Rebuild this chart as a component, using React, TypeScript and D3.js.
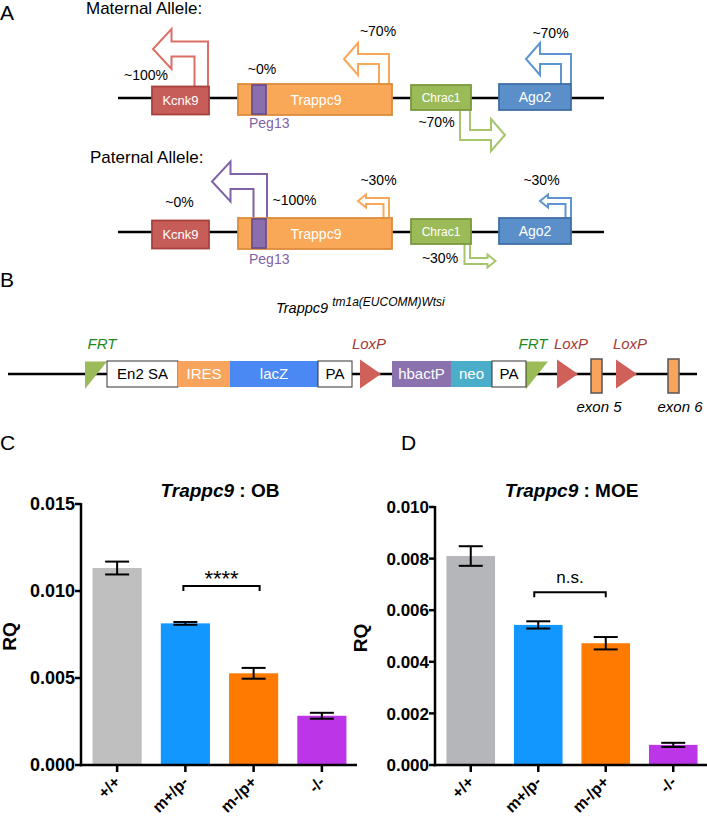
import React from "react";
import * as d3 from "d3";

const FONT = "'Liberation Sans', Arial, Helvetica, sans-serif";

// ---------- Panel A data ----------
const genes = ["Kcnk9", "Trappc9", "Peg13", "Chrac1", "Ago2"];
const maternalPct = [100, 70, 0, 70, 70];
const paternalPct = [0, 30, 100, 30, 30];
const alleleTitles = ["Maternal Allele:", "Paternal Allele:"];

// ---------- Panel B data ----------
const cassetteLabels = ["En2 SA", "IRES", "lacZ", "PA", "hbactP", "neo", "PA"];
const siteLabels = ["FRT", "LoxP", "FRT", "LoxP", "LoxP"];
const exonLabels = ["exon 5", "exon 6"];

// ---------- Panels C / D data ----------
const categories = ["+/+", "m+/p-", "m-/p+", "-/-"];
const obMeans = [0.01132, 0.00814, 0.00527, 0.00283];
const obSem = [0.00037, 0.00008, 0.00031, 0.00017];
const obTicks = [0, 0.005, 0.01, 0.015];
const moeMeans = [0.0081, 0.00543, 0.00472, 0.00078];
const moeSem = [0.00038, 0.00014, 0.00024, 0.00008];
const moeTicks = [0, 0.002, 0.004, 0.006, 0.008, 0.01];

// ---------- layout (diagram geometry) ----------
const geneLayout: Record<string, any> = {
  Kcnk9: { x0: 152, x1: 209, dy: [-11.5, 16.5], fill: "#c75d58", stroke: "#a8413d", arrow: "#dd6e66", fs: 13, dir: "left", xr: 208 },
  Trappc9: { x0: 238, x1: 392, dy: [-14, 17], fill: "#f9a858", stroke: "#dc8c3c", arrow: "#f9a75a", fs: 14, dir: "left", xr: 389 },
  Peg13: { x0: 252, x1: 266, dy: [-13, 16], fill: "#8a6ead", stroke: "#6b5090", arrow: "#8063a6", fs: 0, dir: "left", xr: 267 },
  Chrac1: { x0: 411, x1: 471, dy: [-13, 12], fill: "#9bbb59", stroke: "#7b9a3e", arrow: "#a6c56c", fs: 12, dir: "right", xr: 470 },
  Ago2: { x0: 499, x1: 571, dy: [-14, 12], fill: "#5b8fc9", stroke: "#3f6fa6", arrow: "#5e94cf", fs: 14, dir: "left", xr: 571 },
};
const alleleLayout = [
  {
    lineY: 98, titleX: 86, titleY: 14, peg13LabelY: 128,
    pctPos: { Kcnk9: [146, 80], Trappc9: [378, 36], Peg13: [262, 74], Chrac1: [436.5, 127], Ago2: [550.5, 38] } as Record<string, number[]>,
  },
  {
    lineY: 232, titleX: 90, titleY: 163, peg13LabelY: 264,
    pctPos: { Kcnk9: [179.5, 207], Trappc9: [378.5, 185], Peg13: [294.5, 205], Chrac1: [440, 263], Ago2: [541.5, 185] } as Record<string, number[]>,
  },
];

// arrow dimension scales (by expression percentage)
const dom = [30, 70, 100];
const riseS = d3.scaleLinear().domain(dom).range([20, 30, 45]);
const shaftS = d3.scaleLinear().domain(dom).range([5.5, 10, 13.5]);
const armS = d3.scaleLinear().domain(dom).range([6, 10, 15]);
const headHS = d3.scaleLinear().domain(dom).range([13, 32, 40]);
const headLS = d3.scaleLinear().domain(dom).range([8, 14, 18.5]);
const extentS = d3.scaleLinear().domain(dom).range([31, 45, 55]);

function arrowPath(pct: number, dir: string, xr: number, yTop: number, yBot: number) {
  const R = riseS(pct), w = shaftS(pct), a = armS(pct), H = headHS(pct), L = headLS(pct), E = extentS(pct);
  const p = d3.path();
  if (dir === "left") {
    const yb = yTop;
    const xt = xr - E;
    const ym = yb - R + a / 2;
    p.moveTo(xr - w, yb);
    p.lineTo(xr - w, yb - R + a);
    p.lineTo(xt + L, yb - R + a);
    p.lineTo(xt + L, ym + H / 2);
    p.lineTo(xt, ym);
    p.lineTo(xt + L, ym - H / 2);
    p.lineTo(xt + L, yb - R);
    p.lineTo(xr, yb - R);
    p.lineTo(xr, yb);
  } else {
    const yb = yBot;
    const xl = xr - w;
    const xt = xl + E;
    const ym = yb + R - a / 2;
    p.moveTo(xr, yb);
    p.lineTo(xr, yb + R - a);
    p.lineTo(xt - L, yb + R - a);
    p.lineTo(xt - L, ym - H / 2);
    p.lineTo(xt, ym);
    p.lineTo(xt - L, ym + H / 2);
    p.lineTo(xt - L, yb + R);
    p.lineTo(xl, yb + R);
    p.lineTo(xl, yb);
  }
  return p.toString();
}

function PanelA() {
  const lineX = d3.scaleLinear().domain([0, 1]).range([118, 604]);
  return (
    <g>
      <text x={0} y={20} fontSize={21} fontFamily={FONT}>A</text>
      {alleleLayout.map((al, ai) => {
        const pcts = ai === 0 ? maternalPct : paternalPct;
        return (
          <g key={ai}>
            <text x={al.titleX} y={al.titleY} fontSize={17} fontFamily={FONT}>{alleleTitles[ai]}</text>
            <line x1={lineX(0)} x2={lineX(1)} y1={al.lineY} y2={al.lineY} stroke="#000" strokeWidth={2.5} />
            {genes.map((g, gi) => {
              const gl = geneLayout[g];
              const pct = pcts[gi];
              if (pct <= 0) return null;
              return (
                <path key={"a" + g} d={arrowPath(pct, gl.dir, gl.xr, al.lineY + gl.dy[0], al.lineY + gl.dy[1])}
                  fill="#fff" stroke={gl.arrow} strokeWidth={2} strokeLinejoin="miter" />
              );
            })}
            {genes.map((g) => {
              const gl = geneLayout[g];
              return (
                <g key={"b" + g}>
                  <rect x={gl.x0} y={al.lineY + gl.dy[0]} width={gl.x1 - gl.x0} height={gl.dy[1] - gl.dy[0]}
                    fill={gl.fill} stroke={gl.stroke} strokeWidth={1.8} />
                  {gl.fs > 0 && (
                    <text x={g === "Trappc9" ? 316 : (gl.x0 + gl.x1) / 2} y={al.lineY + (gl.dy[0] + gl.dy[1]) / 2} dy="0.36em"
                      textAnchor="middle" fontSize={gl.fs} fill="#fff" fontFamily={FONT}>{g}</text>
                  )}
                </g>
              );
            })}
            <text x={249} y={al.peg13LabelY} fontSize={14} fill="#7f63a5" fontFamily={FONT}>Peg13</text>
            {genes.map((g, gi) => {
              const pos = al.pctPos[g];
              return (
                <text key={"p" + g} x={pos[0]} y={pos[1]} textAnchor="middle" fontSize={14} fontFamily={FONT}>
                  {`~${pcts[gi]}%`}
                </text>
              );
            })}
          </g>
        );
      })}
    </g>
  );
}

function PanelB() {
  const y = 374;
  const boxes = [
    { x0: 107, x1: 178, fill: "#fff", tc: "#000" },
    { x0: 178, x1: 230, fill: "#f9a45c", tc: "#fff" },
    { x0: 230, x1: 318, fill: "#4a89f3", tc: "#fff" },
    { x0: 318, x1: 352, fill: "#fff", tc: "#000" },
    { x0: 392, x1: 451, fill: "#8b71ae", tc: "#fff" },
    { x0: 451, x1: 492, fill: "#4aadc9", tc: "#fff" },
    { x0: 492, x1: 526, fill: "#fff", tc: "#000" },
  ];
  const sites = [
    { x: 85, type: "FRT", lx: 102 },
    { x: 360, type: "LoxP", lx: 369 },
    { x: 526, type: "FRT", lx: 533 },
    { x: 557, type: "LoxP", lx: 571 },
    { x: 616, type: "LoxP", lx: 630 },
  ];
  const exons = [{ x: 591, lx: 599 }, { x: 668, lx: 680 }];
  return (
    <g fontFamily={FONT}>
      <text x={0} y={287} fontSize={21}>B</text>
      <text x={276} y={313} fontSize={14.5} fontStyle="italic">
        Trappc9
        <tspan dx={4} dy={-7} fontSize={12}>tm1a(EUCOMM)Wtsi</tspan>
      </text>
      <line x1={8} x2={697} y1={y} y2={y} stroke="#000" strokeWidth={2.5} />
      {sites.map((s, i) => {
        const pts = s.type === "FRT"
          ? [[s.x, y - 12.5], [s.x + 22, y - 12.5], [s.x, y + 15]]
          : [[s.x, y - 14.5], [s.x + 21, y], [s.x, y + 14.5]];
        return (
          <g key={"s" + i}>
            <polygon points={pts.map((p) => p.join(",")).join(" ")} fill={s.type === "FRT" ? "#9bbb59" : "#d0605a"} />
            <text x={s.lx} y={349} textAnchor="middle" fontSize={15} fontStyle="italic"
              fill={s.type === "FRT" ? "#1e8a1e" : "#a23a37"}>{siteLabels[i]}</text>
          </g>
        );
      })}
      {boxes.map((b, i) => (
        <g key={"c" + i}>
          <rect x={b.x0} y={y - 13} width={b.x1 - b.x0} height={26} fill={b.fill}
            stroke={b.fill === "#fff" ? "#333" : "none"} strokeWidth={1} />
          <text x={(b.x0 + b.x1) / 2} y={y} dy="0.36em" textAnchor="middle" fontSize={15} fill={b.tc}>{cassetteLabels[i]}</text>
        </g>
      ))}
      {exons.map((e, i) => (
        <g key={"e" + i}>
          <rect x={e.x} y={y - 15} width={11} height={34} fill="#f9a45c" stroke="#555" strokeWidth={1.5} />
          <text x={e.lx} y={412} textAnchor="middle" fontSize={15} fontStyle="italic">{exonLabels[i]}</text>
        </g>
      ))}
    </g>
  );
}

function BarPanel(props: any) {
  const { letter, letterX, means, sems, colors, ticks, yDomainMax, xRange, yRange, title, titleCx, tickFs, rqX, sig, sigFs, sigValue, sigOffsets } = props;
  const x = d3.scaleBand().domain(categories).range(xRange).paddingInner(0.28).paddingOuter(0.14);
  const y = d3.scaleLinear().domain([0, yDomainMax]).range(yRange);
  const axisX = xRange[0] - 2;
  const fmt = d3.format(".3f");
  const bw = x.bandwidth();
  const cx = (c: string) => (x(c) as number) + bw / 2;
  const by = y(sigValue);
  const bx0 = cx(categories[1]) + sigOffsets[0];
  const bx1 = cx(categories[2]) + sigOffsets[1];
  return (
    <g fontFamily={FONT}>
      <text x={letterX} y={450} fontSize={21}>{letter}</text>
      <text x={titleCx} y={497} textAnchor="middle" fontSize={19} fontWeight="bold">
        <tspan fontStyle="italic">Trappc9</tspan> : {title}
      </text>
      <text transform={`translate(${rqX},${(yRange[0] + yRange[1]) / 2 + 2}) rotate(-90)`} textAnchor="middle"
        fontSize={19} fontWeight="bold">RQ</text>
      {categories.map((c, i) => (
        <rect key={c} x={x(c)} y={y(means[i])} width={bw} height={y(0) - y(means[i])} fill={colors[i]} />
      ))}
      {categories.map((c, i) => (
        <g key={"e" + c} stroke="#000" strokeWidth={2}>
          <line x1={cx(c)} x2={cx(c)} y1={y(means[i] + sems[i])} y2={y(means[i] - sems[i])} />
          <line x1={cx(c) - 12} x2={cx(c) + 12} y1={y(means[i] + sems[i])} y2={y(means[i] + sems[i])} />
          <line x1={cx(c) - 12} x2={cx(c) + 12} y1={y(means[i] - sems[i])} y2={y(means[i] - sems[i])} />
        </g>
      ))}
      <path d={`M${bx0},${by + 5}V${by}H${bx1}V${by + 5}`} fill="none" stroke="#000" strokeWidth={2} />
      <text x={(bx0 + bx1) / 2} y={by - (sig === "****" ? 0 : 9)} textAnchor="middle" fontSize={sigFs}>{sig}</text>
      <line x1={axisX} x2={axisX} y1={yRange[1] - 1} y2={yRange[0] + 1.25} stroke="#000" strokeWidth={2.5} />
      <line x1={axisX - 1.25} x2={xRange[1] + 1} y1={y(0)} y2={y(0)} stroke="#000" strokeWidth={2.5} />
      {ticks.map((t: number) => (
        <g key={t}>
          <line x1={axisX - 6} x2={axisX} y1={y(t)} y2={y(t)} stroke="#000" strokeWidth={2.5} />
          <text x={axisX - 6} y={y(t)} dy="0.36em" textAnchor="end" fontSize={tickFs} fontWeight="bold">{fmt(t)}</text>
        </g>
      ))}
      {categories.map((c) => (
        <g key={"t" + c}>
          <line x1={cx(c)} x2={cx(c)} y1={y(0)} y2={y(0) + 7} stroke="#000" strokeWidth={2.5} />
          <text transform={`translate(${cx(c) + 4},${y(0) + 18}) rotate(-45)`} textAnchor="end" fontSize={16} fontWeight="bold">{c}</text>
        </g>
      ))}
    </g>
  );
}

export default function App() {
  return (
    <svg width={707} height={822} viewBox="0 0 707 822" style={{ position: "absolute", left: 0, top: 0, background: "#fff" }}>
      <rect x={0} y={0} width={707} height={822} fill="#fff" />
      <PanelA />
      <PanelB />
      <BarPanel letter="C" letterX={0} means={obMeans} sems={obSem} colors={["#bfbfbf", "#1296ff", "#ff7a00", "#bc36e8"]}
        ticks={obTicks} yDomainMax={0.015} xRange={[83, 356]} yRange={[765, 504]} title="OB" titleCx={220}
        tickFs={18} rqX={16} sig="****" sigFs={22} sigValue={0.01029} sigOffsets={[-2, 6]} />
      <BarPanel letter="D" letterX={401} means={moeMeans} sems={moeSem} colors={["#b4b6ba", "#1296ff", "#ff7a00", "#bc36e8"]}
        ticks={moeTicks} yDomainMax={0.01} xRange={[437, 707]} yRange={[765, 507]} title="MOE" titleCx={571.5}
        tickFs={17} rqX={367} sig="n.s." sigFs={17} sigValue={0.0067} sigOffsets={[-4, 0]} />
    </svg>
  );
}
